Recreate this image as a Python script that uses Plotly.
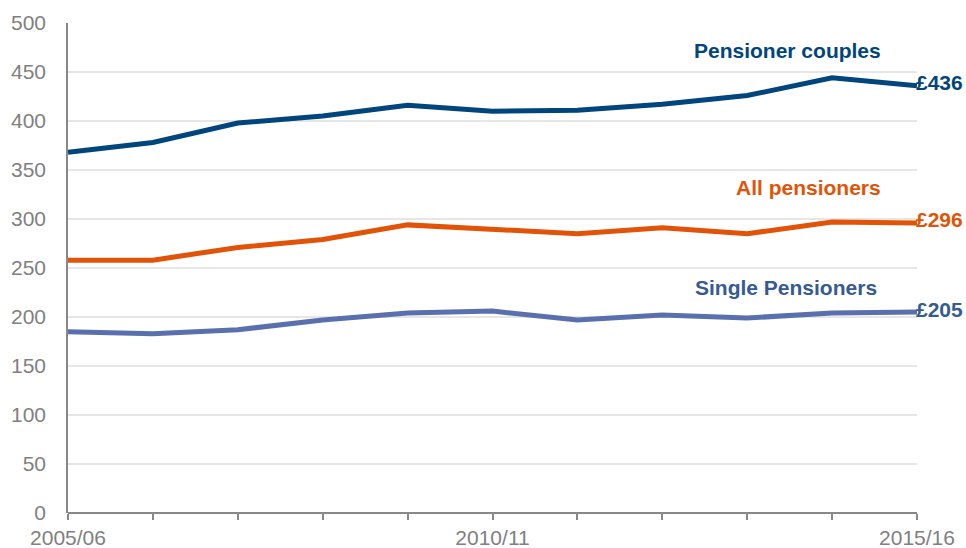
import plotly.graph_objects as go

years = ["2005/06", "2006/07", "2007/08", "2008/09", "2009/10", "2010/11",
         "2011/12", "2012/13", "2013/14", "2014/15", "2015/16"]
couples = [368, 378, 398, 405, 416, 410, 411, 417, 426, 444, 436]
all_pens = [258, 258, 271, 279, 294, 290, 285, 291, 285, 297, 296]
single = [185, 183, 187, 197, 204, 206, 197, 202, 199, 204, 205]
tick_text = ["2005/06", "", "", "", "", "2010/11", "", "", "", "", "2015/16"]

C_COUPLE = "#00457c"
C_ALL = "#e15407"
C_SINGLE = "#5a6fae"
C_SINGLE_TXT = "#365b94"
FONT = "Liberation Sans, Arial"

fig = go.Figure()
for name, vals, col in [("Pensioner couples", couples, C_COUPLE),
                        ("All pensioners", all_pens, C_ALL),
                        ("Single Pensioners", single, C_SINGLE)]:
    fig.add_trace(go.Scatter(x=list(range(len(years))), y=vals, mode="lines",
                             name=name, line=dict(color=col, width=5),
                             cliponaxis=False, showlegend=False))

lab_font = dict(family=FONT, size=21)
fig.add_annotation(x=9.6, y=472, text="<b>Pensioner couples</b>",
                   showarrow=False, xanchor="right", yanchor="middle",
                   font=dict(color=C_COUPLE, **lab_font))
fig.add_annotation(x=9.6, y=332, text="<b>All pensioners</b>",
                   showarrow=False, xanchor="right", yanchor="middle",
                   font=dict(color=C_ALL, **lab_font))
fig.add_annotation(x=9.55, y=230, text="<b>Single Pensioners</b>",
                   showarrow=False, xanchor="right", yanchor="middle",
                   font=dict(color=C_SINGLE_TXT, **lab_font))

for vals, col in [(couples, C_COUPLE), (all_pens, C_ALL), (single, C_SINGLE_TXT)]:
    fig.add_annotation(x=10, y=vals[-1], text="<b>£%d</b>" % vals[-1], showarrow=False,
                       xanchor="left", yanchor="middle", xshift=-3, yshift=3,
                       font=dict(color=col, family=FONT, size=21))

fig.update_layout(
    width=966, height=548,
    margin=dict(l=68, r=49, t=23, b=35),
    plot_bgcolor="white", paper_bgcolor="white",
    font=dict(family=FONT, size=21, color="#808080"),
)
fig.update_xaxes(range=[0, 10], tickmode="array", tickvals=list(range(len(years))),
                 ticktext=tick_text, ticks="outside", ticklen=6, tickwidth=1.5,
                 tickcolor="#888888", automargin=False,
                 showgrid=False, showline=False, zeroline=False,
                 tickfont=dict(color="#808080", size=21, family=FONT))
fig.update_yaxes(range=[0, 500], dtick=50, showgrid=True, gridcolor="#e6e6e6", gridwidth=2,
                 showline=True, linecolor="#888888", linewidth=1.5, zeroline=True,
                 zerolinecolor="#888888", zerolinewidth=2, ticks="", ticklabelstandoff=16,
                 automargin=False,
                 tickfont=dict(color="#808080", size=21, family=FONT))

fig.write_html("out.html", config={"displayModeBar": False},
               post_script="document.body.style.margin='0';document.body.style.overflow='hidden';")
